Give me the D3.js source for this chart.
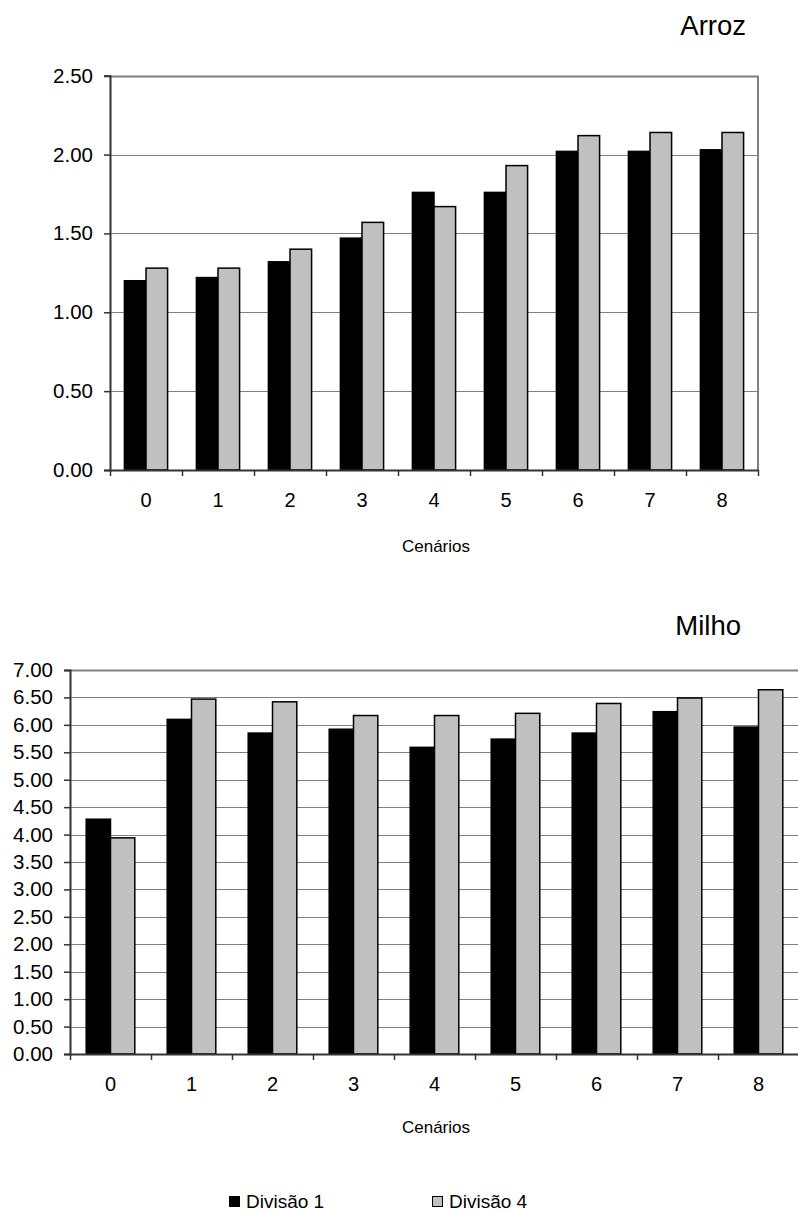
<!DOCTYPE html>
<html>
<head>
<meta charset="utf-8">
<script src="https://cdn.jsdelivr.net/npm/d3@7"></script>
<style>
  html, body { margin: 0; padding: 0; background: #fff; }
  svg { display: block; font-family: "Liberation Sans", Arial, sans-serif; }
</style>
</head>
<body>
<svg id="chart" width="798" height="1214"></svg>
<script>
// Scenario categories shared by both panels
const cenarios = ["0", "1", "2", "3", "4", "5", "6", "7", "8"];
const seriesNames = ["Divisão 1", "Divisão 4"];
const seriesColors = ["#000000", "#c0c0c0"];

// Arroz panel
const arrozDiv1 = [1.20, 1.22, 1.32, 1.47, 1.76, 1.76, 2.02, 2.02, 2.03];
const arrozDiv4 = [1.28, 1.28, 1.40, 1.57, 1.67, 1.93, 2.12, 2.14, 2.14];
const arrozTicks = [0, 0.5, 1.0, 1.5, 2.0, 2.5];

// Milho panel
const milhoDiv1 = [4.28, 6.10, 5.85, 5.92, 5.59, 5.74, 5.85, 6.24, 5.96];
const milhoDiv4 = [3.94, 6.47, 6.42, 6.17, 6.17, 6.21, 6.39, 6.49, 6.64];
const milhoTicks = [0, 0.5, 1.0, 1.5, 2.0, 2.5, 3.0, 3.5, 4.0, 4.5, 5.0, 5.5, 6.0, 6.5, 7.0];

const svg = d3.select("#chart");
const fmt = d3.format(".2f");
const FONT = "Liberation Sans, Arial, sans-serif";

function panel(cfg) {
  const { left, right, top, bottom, title, titleX, titleY, ticks, d1, d4, axisTitleY } = cfg;
  const g = svg.append("g");
  const x0 = d3.scaleBand().domain(cenarios).range([left, right]).paddingInner(0).paddingOuter(0);
  const cw = x0.bandwidth();
  const x1 = d3.scaleBand().domain(seriesNames).range([cw * 0.2, cw * 0.8]).padding(0);
  const y = d3.scaleLinear().domain([0, d3.max(ticks)]).range([bottom, top]);

  // horizontal gridlines
  g.append("g").selectAll("line").data(ticks.filter(t => t > 0)).join("line")
    .attr("x1", left).attr("x2", right)
    .attr("y1", d => Math.round(y(d)) + 0.5).attr("y2", d => Math.round(y(d)) + 0.5)
    .attr("stroke", "#808080")
    .attr("stroke-width", d => d === d3.max(ticks) ? 2 : 1);

  // right border of plot area
  g.append("line")
    .attr("x1", right).attr("x2", right).attr("y1", top).attr("y2", bottom)
    .attr("stroke", "#808080").attr("stroke-width", 2);

  // bars
  const rows = cenarios.map((c, i) => ({ c, vals: [d1[i], d4[i]] }));
  const grp = g.append("g").selectAll("g").data(rows).join("g")
    .attr("transform", d => `translate(${x0(d.c)},0)`);
  grp.selectAll("rect").data(d => d.vals.map((v, k) => ({ v, k }))).join("rect")
    .attr("x", d => x1(seriesNames[d.k]))
    .attr("width", x1.bandwidth())
    .attr("y", d => y(d.v))
    .attr("height", d => y(0) - y(d.v))
    .attr("fill", d => seriesColors[d.k])
    .attr("stroke", "#000")
    .attr("stroke-width", 1.5);

  // y axis
  const yAxis = g.append("g").attr("transform", `translate(${left},0)`)
    .call(d3.axisLeft(y).tickValues(ticks).tickFormat(fmt).tickSize(6).tickPadding(11));
  yAxis.select(".domain").attr("stroke", "#333").attr("stroke-width", 2);
  yAxis.selectAll(".tick line").attr("stroke", "#333").attr("stroke-width", 1.5);
  yAxis.selectAll("text").attr("font-size", 20.5).attr("fill", "#000").attr("font-family", FONT);

  // x axis: boundary ticks and category labels
  const xb = d3.scaleLinear().domain([0, cenarios.length]).range([left, right]);
  const xAxis = g.append("g").attr("transform", `translate(0,${bottom})`)
    .call(d3.axisBottom(xb).tickValues(d3.range(cenarios.length + 1)).tickFormat("").tickSize(6).tickSizeOuter(0));
  xAxis.select(".domain").attr("stroke", "#333").attr("stroke-width", 2);
  xAxis.selectAll(".tick line").attr("stroke", "#333").attr("stroke-width", 1.5);

  const xLab = g.append("g").attr("transform", `translate(0,${bottom})`)
    .call(d3.axisBottom(x0).tickSize(0).tickPadding(23));
  xLab.select(".domain").remove();
  xLab.selectAll("text").attr("font-size", 20).attr("fill", "#000").attr("font-family", FONT);

  // axis title
  g.append("text").attr("x", 436).attr("y", axisTitleY)
    .attr("text-anchor", "middle").attr("font-size", 17).text("Cenários");

  // panel title
  g.append("text").attr("x", titleX).attr("y", titleY)
    .attr("text-anchor", "end").attr("font-size", 27.5).text(title);
}

panel({
  left: 110, right: 758, top: 75.7, bottom: 470,
  title: "Arroz", titleX: 746, titleY: 35,
  ticks: arrozTicks, d1: arrozDiv1, d4: arrozDiv4,
  axisTitleY: 552
});

panel({
  left: 70, right: 799, top: 670, bottom: 1054,
  title: "Milho", titleX: 741, titleY: 635,
  ticks: milhoTicks, d1: milhoDiv1, d4: milhoDiv4,
  axisTitleY: 1133
});

// legend
const legend = svg.append("g").attr("transform", "translate(0,1208)");
const legendX = [229, 432];
seriesNames.forEach((name, i) => {
  const lg = legend.append("g").attr("transform", `translate(${legendX[i]},0)`);
  lg.append("rect").attr("x", 0.5).attr("y", -11.5).attr("width", 10).attr("height", 10)
    .attr("fill", seriesColors[i]).attr("stroke", "#000").attr("stroke-width", 1);
  lg.append("text").attr("x", 17).attr("y", 0).attr("font-size", 19).text(name);
});
</script>
</body>
</html>
